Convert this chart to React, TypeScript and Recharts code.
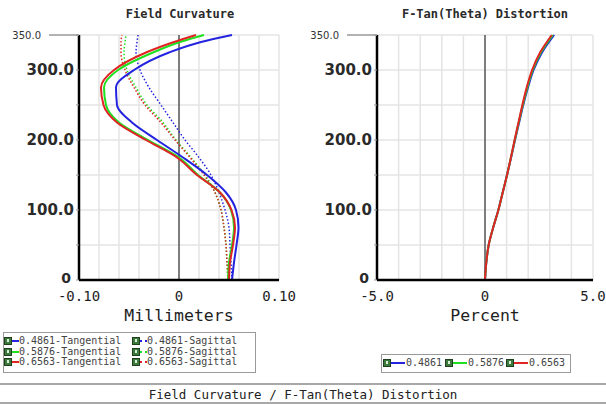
import { LineChart, Line, XAxis, YAxis, CartesianGrid, ReferenceLine } from 'recharts';

// field height (y axis of both plots)
const FIELD = [0, 25, 50, 75, 100, 125, 150, 175, 200, 225, 250, 275, 300, 325, 340, 350];
// field curvature, millimeters
const TAN_486 = [0.053, 0.055, 0.0575, 0.0595, 0.057, 0.047, 0.028, 0.004, -0.022, -0.047, -0.062, -0.063, -0.045, -0.01, 0.022, 0.053];
const TAN_588 = [0.049, 0.05, 0.053, 0.055, 0.052, 0.041, 0.019, 0.0, -0.031, -0.06, -0.073, -0.075, -0.061, -0.026, 0.001, 0.025];
const TAN_656 = [0.05, 0.051, 0.054, 0.056, 0.0525, 0.041, 0.018, -0.002, -0.033, -0.062, -0.0755, -0.078, -0.065, -0.033, -0.005, 0.017];
const SAG_486 = [0.053, 0.052, 0.051, 0.05, 0.046, 0.04, 0.032, 0.02, 0.006, -0.006, -0.018, -0.03, -0.039, -0.043, -0.042, -0.041];
const SAG_588 = [0.049, 0.048, 0.047, 0.045, 0.042, 0.036, 0.026, 0.012, -0.003, -0.016, -0.032, -0.043, -0.052, -0.055, -0.054, -0.053];
const SAG_656 = [0.049, 0.048, 0.047, 0.045, 0.042, 0.036, 0.025, 0.011, -0.004, -0.018, -0.034, -0.045, -0.054, -0.058, -0.058, -0.057];

// f-tan(theta) distortion, percent
const DIST_FIELD = [0, 25, 50, 75, 100, 125, 150, 175, 200, 225, 250, 275, 300, 325, 350];
const DIST_486 = [0, 0.06, 0.17, 0.38, 0.62, 0.82, 1.02, 1.21, 1.39, 1.58, 1.77, 1.99, 2.25, 2.64, 3.2];
const DIST_588 = [0, 0.06, 0.17, 0.38, 0.62, 0.82, 1.02, 1.2, 1.38, 1.56, 1.75, 1.96, 2.21, 2.59, 3.14];
const DIST_656 = [0, 0.06, 0.17, 0.38, 0.62, 0.82, 1.02, 1.2, 1.37, 1.55, 1.73, 1.93, 2.18, 2.55, 3.09];

const Y_TICKS = [0, 50, 100, 150, 200, 250, 300, 350];
const FC_TICKS = [-0.1, -0.08, -0.06, -0.04, -0.02, 0, 0.02, 0.04, 0.06, 0.08, 0.1];
const DIST_TICKS = [-5, -4, -3, -2, -1, 0, 1, 2, 3, 4, 5];

const BLUE = '#2424e0';
const GREEN = '#1fe01f';
const RED = '#e02424';
const GRID = '#e4e4e4';
const MONO = '"DejaVu Sans Mono", monospace';
const SANS = '"DejaVu Sans", sans-serif';

const fcData = FIELD.map((f, i) => ({
  field: f,
  t486: TAN_486[i], t588: TAN_588[i], t656: TAN_656[i],
  s486: SAG_486[i], s588: SAG_588[i], s656: SAG_656[i],
}));

const distData = DIST_FIELD.map((f, i) => ({
  field: f, d486: DIST_486[i], d588: DIST_588[i], d656: DIST_656[i],
}));

function FieldTick(props: any) {
  const { x, y, payload } = props;
  const v = payload.value;
  const label = v === 350 ? '350.0' : v === 0 ? '0' : v % 100 === 0 ? v.toFixed(1) : '';
  return (
    <g>
      <line x1={x + 1} x2={x + 4} y1={y} y2={y} stroke="#999" />
      {v === 350 && <line x1={x - 26} x2={x + 4} y1={y} y2={y} stroke="#999" strokeWidth={1.5} />}
      <text
        x={v === 350 ? x - 34 : v === 0 ? x - 4 : x - 1}
        y={v === 0 ? y - 2 : y}
        dy="0.36em"
        textAnchor="end"
        fontFamily={SANS}
        fontSize={v === 350 ? 10 : v === 0 ? 14 : 15}
        fontWeight={v === 350 ? 'normal' : 'bold'}
        fill={v === 350 ? '#333' : '#2a2a2a'}
      >
        {label}
      </text>
    </g>
  );
}

const fmtFc = (v: number) => (Math.abs(v) < 1e-9 ? '0' : Math.abs(Math.abs(v) - 0.1) < 1e-9 ? v.toFixed(2) : '');
const fmtDist = (v: number) => (v === 0 ? '0' : Math.abs(v) === 5 ? v.toFixed(1) : '');

function Check({ x, y }: { x: number; y: number }) {
  return (
    <div style={{ position: 'absolute', left: x, top: y, width: 6, height: 6, background: '#3d7a3d', border: '1px solid #1f3f1f' }}>
      <div style={{ position: 'absolute', left: 2, top: 1, width: 2, height: 3, background: '#d8efd8' }} />
    </div>
  );
}

function Swatch({ x, y, w, color, dotted }: { x: number; y: number; w: number; color: string; dotted?: boolean }) {
  return (
    <div style={{ position: 'absolute', left: x, top: y, width: w, height: 0, borderTop: `2px ${dotted ? 'dotted' : 'solid'} ${color}` }} />
  );
}

const legendText = (x: number, y: number, s: string) => (
  <div style={{ position: 'absolute', left: x, top: y - 6, fontFamily: MONO, fontSize: 10, lineHeight: '12px', color: '#444', whiteSpace: 'nowrap' }}>
    {s}
  </div>
);

const LEFT_ROWS = [
  { y: 341, color: BLUE, t: '0.4861-Tangential', s: '0.4861-Sagittal' },
  { y: 352, color: GREEN, t: '0.5876-Tangential', s: '0.5876-Sagittal' },
  { y: 362, color: RED, t: '0.6563-Tangential', s: '0.6563-Sagittal' },
];

const RIGHT_ITEMS = [
  { x: 383, color: BLUE, t: '0.4861' },
  { x: 445, color: GREEN, t: '0.5876' },
  { x: 506, color: RED, t: '0.6563' },
];

export default function App() {
  return (
    <div style={{ position: 'absolute', left: 0, top: 0, width: 606, height: 404, background: '#fff', overflow: 'hidden' }}>
      <div style={{ position: 'absolute', left: 0, top: 0 }}>
        <LineChart width={300} height={330} data={fcData} layout="vertical" margin={{ top: 35, right: 21, left: 19, bottom: 0 }}>
          <CartesianGrid stroke={GRID} strokeWidth={1.5} />
          <XAxis
            type="number" dataKey="t486" domain={[-0.1, 0.1]} ticks={FC_TICKS} interval={0}
            tickFormatter={fmtFc} height={50} tickSize={0} tickMargin={11}
            axisLine={{ stroke: '#000', strokeWidth: 2.5 }} tickLine={false}
            tick={{ fontFamily: MONO, fontSize: 14, fill: '#1e1e1e' }} allowDataOverflow
          />
          <YAxis
            type="number" dataKey="field" domain={[0, 350]} ticks={Y_TICKS} interval={0} reversed
            width={60} tickSize={0} tickMargin={4} tick={<FieldTick />}
            axisLine={{ stroke: '#000', strokeWidth: 2.5 }} tickLine={false}
          />
          <ReferenceLine x={0} stroke="#111" strokeWidth={1} />
          <Line dataKey="s486" type="monotone" stroke={BLUE} strokeWidth={1.5} strokeDasharray="1.5 2" dot={false} isAnimationActive={false} />
          <Line dataKey="s588" type="monotone" stroke={GREEN} strokeWidth={1.5} strokeDasharray="1.5 2" dot={false} isAnimationActive={false} />
          <Line dataKey="s656" type="monotone" stroke={RED} strokeWidth={1.5} strokeDasharray="1.5 2" dot={false} isAnimationActive={false} />
          <Line dataKey="t486" type="monotone" stroke={BLUE} strokeWidth={2} dot={false} isAnimationActive={false} />
          <Line dataKey="t588" type="monotone" stroke={GREEN} strokeWidth={2} dot={false} isAnimationActive={false} />
          <Line dataKey="t656" type="monotone" stroke={RED} strokeWidth={2} dot={false} isAnimationActive={false} />
        </LineChart>
      </div>

      <div style={{ position: 'absolute', left: 300, top: 0 }}>
        <LineChart width={306} height={330} data={distData} layout="vertical" margin={{ top: 35, right: 13, left: 17, bottom: 0 }}>
          <CartesianGrid stroke={GRID} strokeWidth={1.5} />
          <XAxis
            type="number" dataKey="d486" domain={[-5, 5]} ticks={DIST_TICKS} interval={0}
            tickFormatter={fmtDist} height={50} tickSize={0} tickMargin={11}
            axisLine={{ stroke: '#000', strokeWidth: 2.5 }} tickLine={false}
            tick={{ fontFamily: MONO, fontSize: 14, fill: '#1e1e1e' }} allowDataOverflow
          />
          <YAxis
            type="number" dataKey="field" domain={[0, 350]} ticks={Y_TICKS} interval={0} reversed
            width={60} tickSize={0} tickMargin={4} tick={<FieldTick />}
            axisLine={{ stroke: '#000', strokeWidth: 2.5 }} tickLine={false}
          />
          <ReferenceLine x={0} stroke="#111" strokeWidth={1} />
          <Line dataKey="d486" type="monotone" stroke={BLUE} strokeWidth={2} dot={false} isAnimationActive={false} />
          <Line dataKey="d588" type="monotone" stroke={GREEN} strokeWidth={2} dot={false} isAnimationActive={false} />
          <Line dataKey="d656" type="monotone" stroke={RED} strokeWidth={2} dot={false} isAnimationActive={false} />
        </LineChart>
      </div>

      {/* titles */}
      <div style={{ position: 'absolute', left: 80, top: 7, width: 200, textAlign: 'center', fontFamily: MONO, fontSize: 12, fontWeight: 'bold', color: '#2a2a2a' }}>
        Field Curvature
      </div>
      <div style={{ position: 'absolute', left: 377, top: 7, width: 216, textAlign: 'center', fontFamily: MONO, fontSize: 12, fontWeight: 'bold', color: '#2a2a2a' }}>
        F-Tan(Theta) Distortion
      </div>
      <div style={{ position: 'absolute', left: 79, top: 306, width: 200, textAlign: 'center', fontFamily: MONO, fontSize: 16.5, lineHeight: '20px', color: '#1e1e1e' }}>
        Millimeters
      </div>
      <div style={{ position: 'absolute', left: 377, top: 306, width: 216, textAlign: 'center', fontFamily: MONO, fontSize: 16.5, lineHeight: '20px', color: '#1e1e1e' }}>
        Percent
      </div>

      {/* left legend */}
      <div style={{ position: 'absolute', left: 3, top: 332, width: 251, height: 39, border: '1.5px solid #9a9a9a' }} />
      {LEFT_ROWS.map(r => (
        <div key={r.t}>
          <Check x={4} y={r.y - 4} />
          <Swatch x={12} y={r.y - 1} w={7} color={r.color} />
          {legendText(19, r.y, r.t)}
          <Check x={132} y={r.y - 4} />
          <Swatch x={140} y={r.y - 1} w={7} color={r.color} dotted />
          {legendText(147, r.y, r.s)}
        </div>
      ))}

      {/* right legend */}
      <div style={{ position: 'absolute', left: 381, top: 354, width: 188, height: 17, border: '1.5px solid #9a9a9a' }} />
      {RIGHT_ITEMS.map(it => (
        <div key={it.t}>
          <Check x={it.x} y={359} />
          <Swatch x={it.x + 8} y={362} w={14} color={it.color} />
          {legendText(it.x + 23, 363, it.t)}
        </div>
      ))}

      {/* footer */}
      <div style={{ position: 'absolute', left: 0, top: 383, width: 606, height: 0, borderTop: '2px solid #a8a8a8' }} />
      <div style={{ position: 'absolute', left: 0, top: 388, width: 606, textAlign: 'center', fontFamily: MONO, fontSize: 12.5, lineHeight: '14px', color: '#222' }}>
        Field Curvature / F-Tan(Theta) Distortion
      </div>
      <div style={{ position: 'absolute', left: 0, top: 402, width: 606, height: 0, borderTop: '2px solid #a8a8a8' }} />
    </div>
  );
}
